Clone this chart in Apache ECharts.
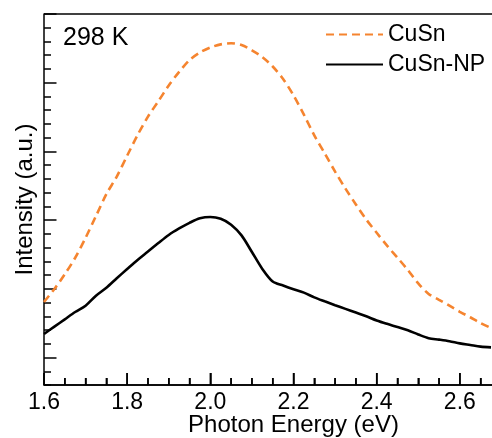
<!DOCTYPE html>
<html>
<head>
<meta charset="utf-8">
<script src="https://cdn.jsdelivr.net/npm/echarts@6/dist/echarts.min.js"></script>
<style>
html,body{margin:0;padding:0;background:#fff;}
#chart{width:492px;height:438px;}
</style>
</head>
<body>
<div id="chart"></div>
<script>
const energy = [1.600,1.625,1.650,1.675,1.700,1.725,1.750,1.775,1.800,1.825,1.850,1.875,1.900,1.925,1.950,1.975,2.000,2.025,2.050,2.075,2.100,2.125,2.150,2.175,2.200,2.225,2.250,2.275,2.300,2.325,2.350,2.375,2.400,2.425,2.450,2.475,2.500,2.525,2.550,2.575,2.600,2.625,2.650,2.675];
const cusn = [6.04,6.99,8.06,9.26,10.71,12.30,13.89,15.17,16.69,18.19,19.53,20.65,21.80,22.79,23.65,24.20,24.56,24.79,24.87,24.74,24.36,23.87,23.18,22.27,21.08,19.67,18.17,16.86,15.53,14.29,13.14,12.04,11.08,10.14,9.27,8.37,7.39,6.63,6.20,5.77,5.33,4.93,4.51,4.15];
const cusnNP = [3.71,4.25,4.78,5.31,5.77,6.50,7.08,7.77,8.44,9.10,9.71,10.33,10.92,11.39,11.80,12.13,12.23,12.10,11.67,10.89,9.68,8.45,7.53,7.24,6.97,6.72,6.38,6.09,5.81,5.54,5.27,5.00,4.70,4.45,4.22,3.98,3.68,3.41,3.30,3.18,3.03,2.91,2.79,2.74];
const seriesNames = ['CuSn','CuSn-NP'];
const xTicks = {min:1.6, max:2.8, interval:0.2};
const xMajorTicks = [1.6,1.8,2.0,2.2,2.4,2.6];
const xMinorTicks = [1.65,1.7,1.75,1.85,1.9,1.95,2.05,2.1,2.15,2.25,2.3,2.35,2.45,2.5,2.55,2.65];
const yRange = {min:0, max:27, interval:1};
const yMajorTicks = [2,7,12,17,22,27];
const annotation = '298 K';

const FONT = 'Liberation Sans, Arial, Helvetica, sans-serif';
const chart = echarts.init(document.getElementById('chart'), null, {renderer:'canvas'});
chart.setOption({
  animation:false,
  backgroundColor:'#fff',
  textStyle:{fontFamily:FONT},
  grid:{left:44, top:14, bottom:53, right:-51, containLabel:false, outerBoundsMode:'none'},
  legend:{
    orient:'vertical', left:320, top:18, itemWidth:57, itemHeight:14, itemGap:7,
    itemStyle:{opacity:0, borderWidth:0},
    textStyle:{fontSize:23, color:'#000', fontFamily:FONT},
    data:seriesNames
  },
  xAxis:[{
    type:'value', position:'bottom', min:xTicks.min, max:xTicks.max, interval:xTicks.interval,
    name:'Photon Energy (eV)', nameLocation:'middle', nameGap:28, nameMoveOverlap:false,
    nameTextStyle:{fontSize:24, color:'#000', fontFamily:FONT},
    axisLine:{show:true, onZero:false, lineStyle:{color:'#000', width:1.5}},
    axisTick:{show:true, inside:true, length:12, lineStyle:{color:'#000', width:1.5}},
    minorTick:{show:true, splitNumber:4, length:7, lineStyle:{color:'#000', width:1.5}},
    axisLabel:{fontSize:23, color:'#000', margin:6, fontFamily:FONT, showMaxLabel:false, formatter:v=>v.toFixed(1)},
    splitLine:{show:false}
  }],
  yAxis:[{
    type:'value', min:yRange.min, max:yRange.max, interval:yRange.interval,
    name:'Intensity (a.u.)', nameLocation:'middle', nameGap:7, nameRotate:90, nameMoveOverlap:false,
    nameTextStyle:{fontSize:24, color:'#000', fontFamily:FONT},
    axisLine:{show:true, onZero:false, lineStyle:{color:'#000', width:1.5}},
    axisTick:{show:true, inside:true, length:7, lineStyle:{color:'#000', width:1.5}},
    axisLabel:{show:false}, splitLine:{show:false}
  },{
    type:'value', position:'left', min:yRange.min, max:yRange.max,
    axisLine:{show:false, onZero:false},
    axisTick:{show:true, inside:true, length:12.5, customValues:yMajorTicks, lineStyle:{color:'#000', width:1.5}},
    axisLabel:{show:false, customValues:yMajorTicks}, splitLine:{show:false}
  }],
  series:[{
    name:seriesNames[0], type:'line', smooth:0.3, symbol:'none', xAxisIndex:0, yAxisIndex:0,
    data:energy.map((e,i)=>[e, cusn[i]]),
    lineStyle:{color:'#F5842F', width:2.6, type:[8,5]},
    itemStyle:{color:'#F5842F'}
  },{
    name:seriesNames[1], type:'line', smooth:0.3, symbol:'none', xAxisIndex:0, yAxisIndex:0,
    data:energy.map((e,i)=>[e, cusnNP[i]]),
    lineStyle:{color:'#000', width:2.6},
    itemStyle:{color:'#000'}
  }]
});

// Frame and x-axis ticks, positioned through the chart's own scales.
const px = v => chart.convertToPixel({xAxisIndex:0}, v);
const py = v => chart.convertToPixel({yAxisIndex:0}, v);
const x0 = px(xTicks.min), x1 = px(xTicks.max);
const yBot = py(yRange.min), yTop = py(yRange.max);
const stroke = {stroke:'#000', lineWidth:1.5};
const g = [
  {type:'line', shape:{x1:x0, y1:yBot, x2:x1, y2:yBot}, style:stroke, z:100},
  {type:'line', shape:{x1:x0, y1:yTop, x2:x1, y2:yTop}, style:stroke, z:100}
];
xMajorTicks.forEach(v => g.push({type:'line', shape:{x1:px(v), y1:yBot, x2:px(v), y2:yBot-12}, style:stroke, z:100}));
xMinorTicks.forEach(v => g.push({type:'line', shape:{x1:px(v), y1:yBot, x2:px(v), y2:yBot-7}, style:stroke, z:100}));
g.push({type:'text', left:63, top:26, style:{text:annotation, fontSize:25, fill:'#000', fontFamily:FONT}, z:100});
chart.setOption({graphic:g});
</script>
</body>
</html>
